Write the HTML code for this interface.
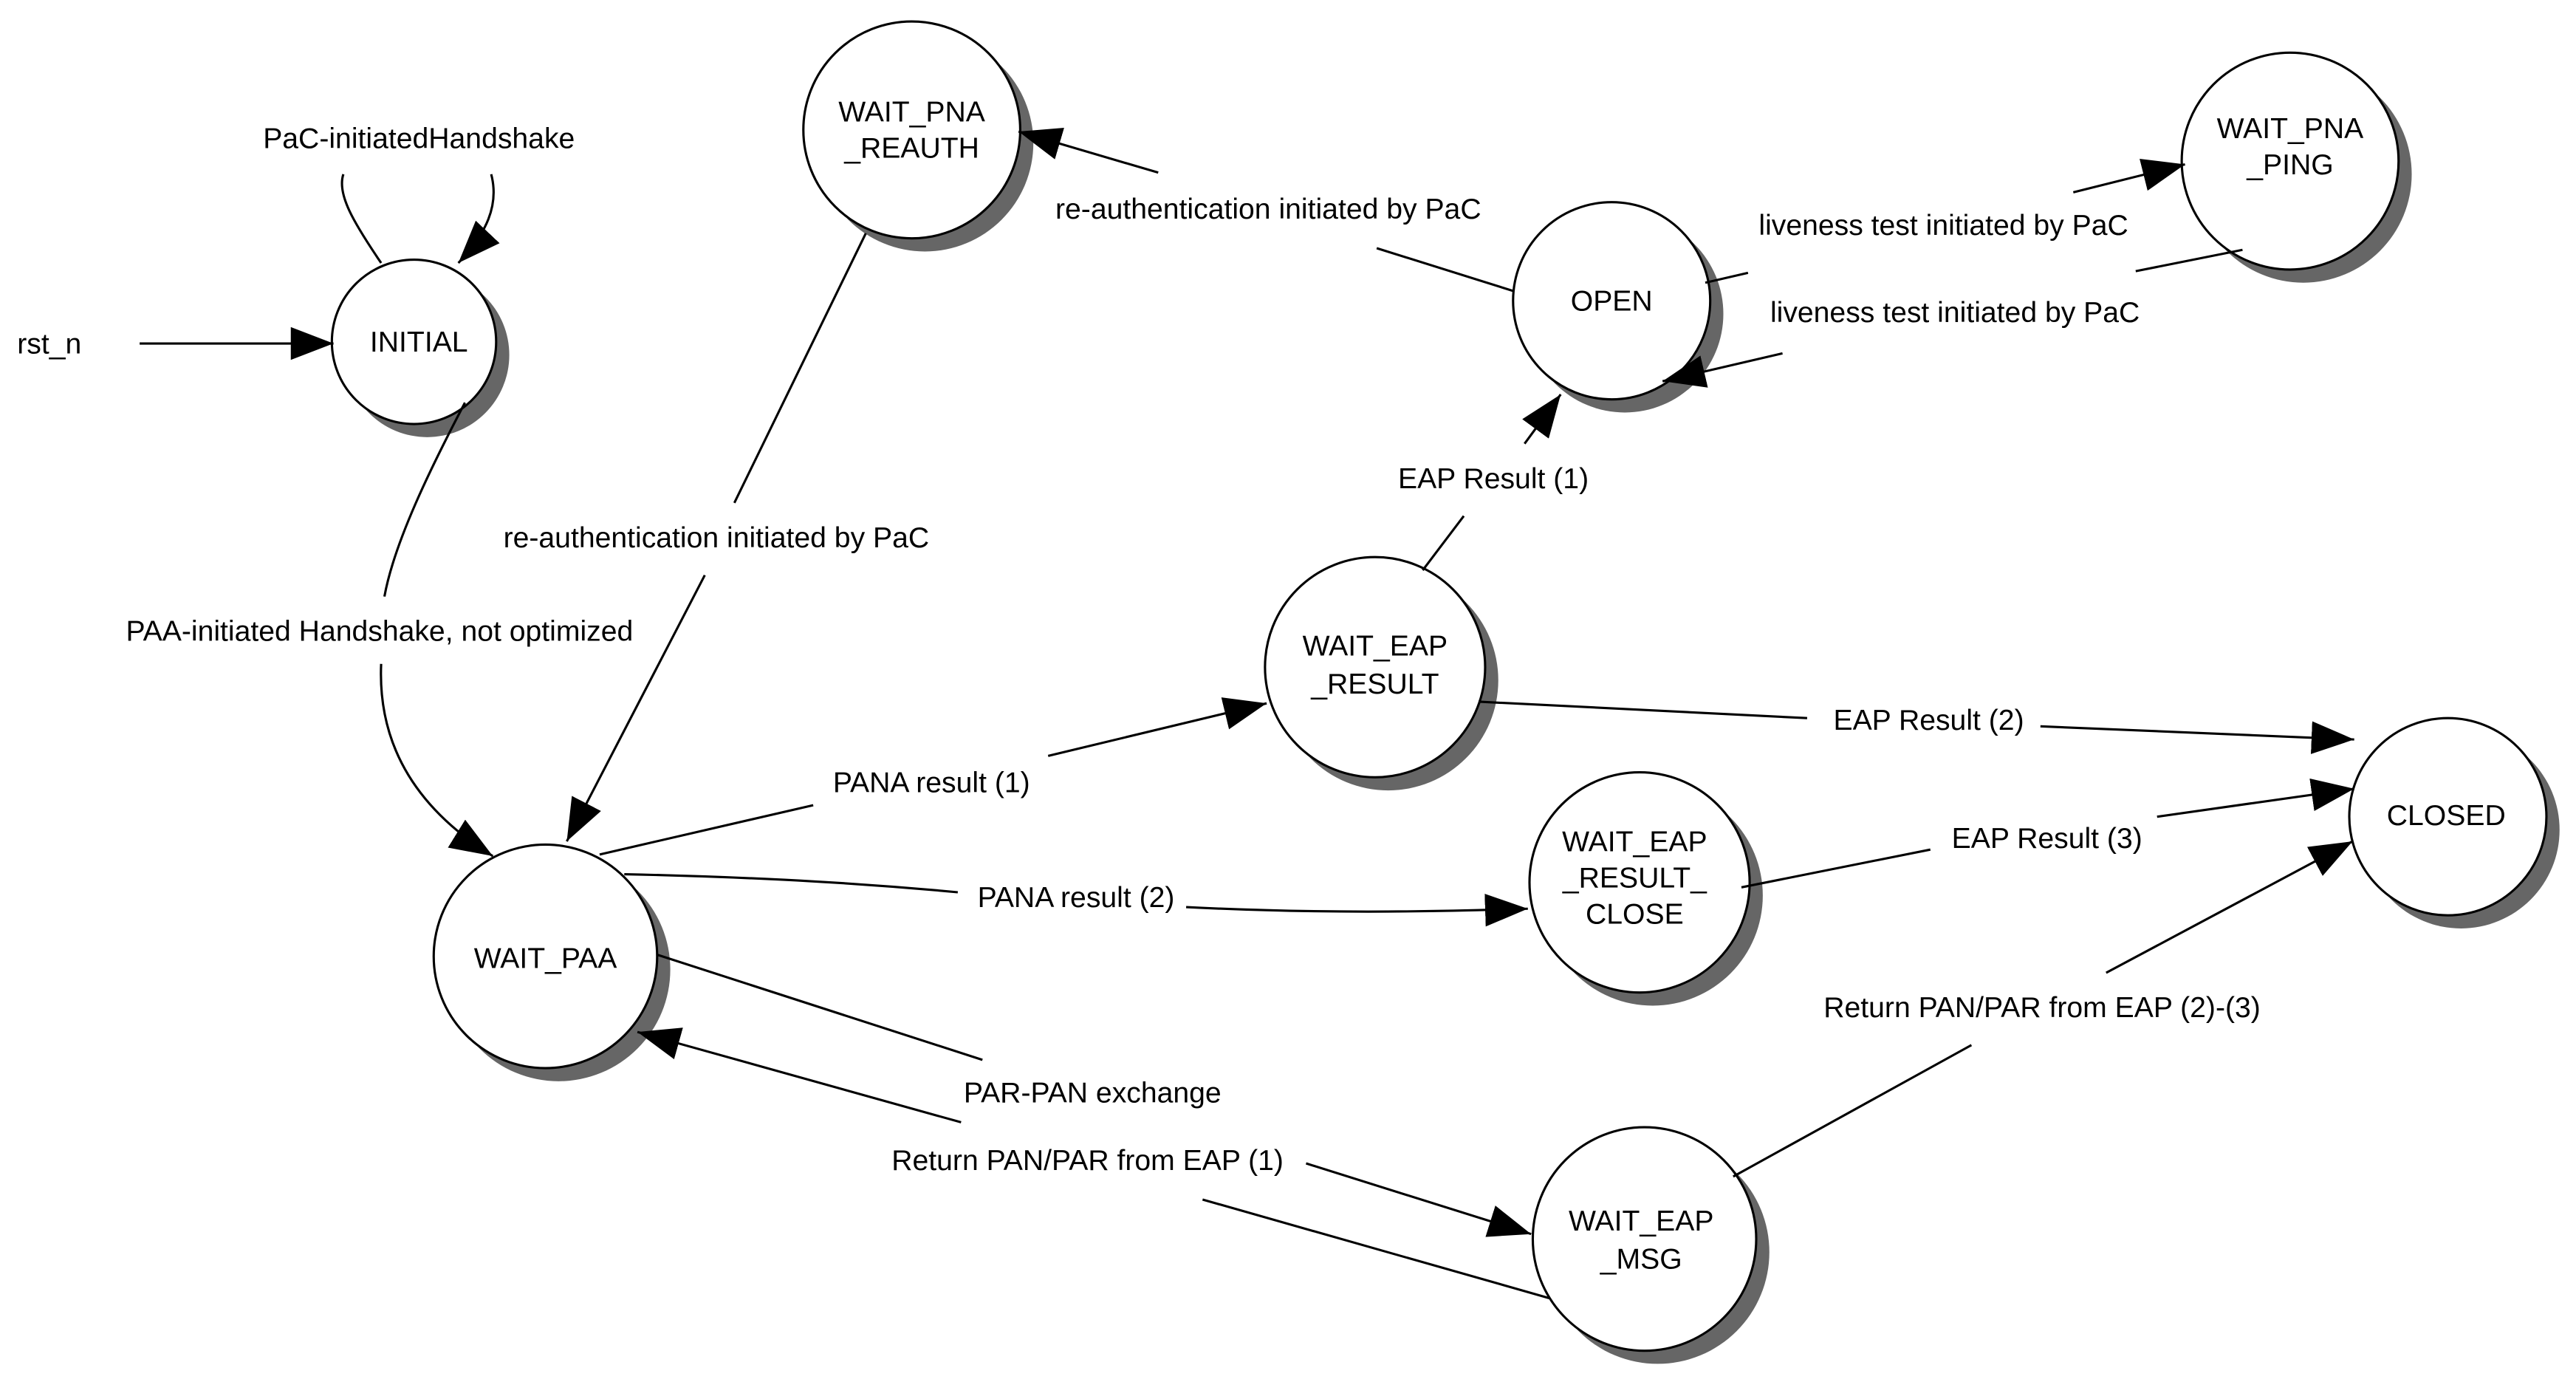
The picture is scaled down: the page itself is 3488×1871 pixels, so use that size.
<!DOCTYPE html>
<html><head><meta charset="utf-8"><style>html,body{margin:0;padding:0;background:#fff}svg{display:block}</style></head>
<body>
<svg width="3488" height="1871" viewBox="0 0 1568 841" xmlns="http://www.w3.org/2000/svg">
<defs>
<marker id="a" markerUnits="userSpaceOnUse" markerWidth="30" markerHeight="24" refX="26" refY="10" orient="auto">
<path d="M0,0 L26,10 L0,20 Z" fill="#000"/>
</marker>
</defs>
<rect width="1568" height="841" fill="#fff"/>
<g fill="#666">
<circle cx="260" cy="216" r="50"/>
<circle cx="563" cy="87" r="66"/>
<circle cx="989" cy="191" r="60"/>
<circle cx="1402" cy="106" r="66"/>
<circle cx="845" cy="414" r="67"/>
<circle cx="1006" cy="545" r="67"/>
<circle cx="1498" cy="505" r="60"/>
<circle cx="1009" cy="762" r="68"/>
<circle cx="340" cy="590" r="68"/>
</g>
<g fill="#fff" stroke="#000" stroke-width="1.4">
<circle cx="252" cy="208" r="50"/>
<circle cx="555" cy="79" r="66"/>
<circle cx="981" cy="183" r="60"/>
<circle cx="1394" cy="98" r="66"/>
<circle cx="837" cy="406" r="67"/>
<circle cx="998" cy="537" r="67"/>
<circle cx="1490" cy="497" r="60"/>
<circle cx="1001" cy="754" r="68"/>
<circle cx="332" cy="582" r="68"/>
</g>
<g fill="none" stroke="#000" stroke-width="1.4">
<path d="M85,209 L203,209" marker-end="url(#a)"/>
<path d="M232,160 C215,135 205,118 209,106"/>
<path d="M299,106 C304,125 296,142 279,160" marker-end="url(#a)"/>
<path d="M283,245 C262,285 240,330 234,363"/>
<path d="M232,404 C230,450 250,490 300,521" marker-end="url(#a)"/>
<path d="M527,142 L447,306"/>
<path d="M429,350 L345,512" marker-end="url(#a)"/>
<path d="M921,177 L838,151"/>
<path d="M705,105 L620,80" marker-end="url(#a)"/>
<path d="M1038,172 L1064,166"/>
<path d="M1262,117 L1330,100" marker-end="url(#a)"/>
<path d="M1365,152 L1300,165"/>
<path d="M1085,215 L1012,232" marker-end="url(#a)"/>
<path d="M866,347 L891,314"/>
<path d="M928,270 L950,240" marker-end="url(#a)"/>
<path d="M365,520 L495,490"/>
<path d="M638,460 L771,428" marker-end="url(#a)"/>
<path d="M900,427 L1100,437"/>
<path d="M1242,442 L1433,450" marker-end="url(#a)"/>
<path d="M380,532 C470,534 530,538 583,543"/>
<path d="M722,552 C800,556 870,555 930,553" marker-end="url(#a)"/>
<path d="M1060,540 L1175,517"/>
<path d="M1313,497 L1433,480" marker-end="url(#a)"/>
<path d="M1055,716 L1200,636"/>
<path d="M1282,592 L1432,512" marker-end="url(#a)"/>
<path d="M400,581 L598,645"/>
<path d="M795,708 L932,751" marker-end="url(#a)"/>
<path d="M943,790 L732,730"/>
<path d="M585,683 L388,628" marker-end="url(#a)"/>
</g>
<g font-family="Liberation Sans, Arial, sans-serif" font-size="17.6" text-anchor="middle" fill="#000">
<text x="255" y="214">INITIAL</text>
<text x="555" y="74">WAIT_PNA</text>
<text x="555" y="96">_REAUTH</text>
<text x="981" y="189">OPEN</text>
<text x="1394" y="84">WAIT_PNA</text>
<text x="1394" y="106">_PING</text>
<text x="837" y="399">WAIT_EAP</text>
<text x="837" y="422">_RESULT</text>
<text x="995" y="518">WAIT_EAP</text>
<text x="995" y="540">_RESULT_</text>
<text x="995" y="562">CLOSE</text>
<text x="1489" y="502">CLOSED</text>
<text x="999" y="749">WAIT_EAP</text>
<text x="999" y="772">_MSG</text>
<text x="332" y="589">WAIT_PAA</text>
<text x="30" y="215">rst_n</text>
<text x="255" y="90">PaC-initiatedHandshake</text>
<text x="231" y="390">PAA-initiated Handshake, not optimized</text>
<text x="436" y="333">re-authentication initiated by PaC</text>
<text x="772" y="133">re-authentication initiated by PaC</text>
<text x="1183" y="143">liveness test initiated by PaC</text>
<text x="1190" y="196">liveness test initiated by PaC</text>
<text x="909" y="297">EAP Result (1)</text>
<text x="567" y="482">PANA result (1)</text>
<text x="1174" y="444">EAP Result (2)</text>
<text x="655" y="552">PANA result (2)</text>
<text x="1246" y="516">EAP Result (3)</text>
<text x="1243" y="619">Return PAN/PAR from EAP (2)-(3)</text>
<text x="665" y="671">PAR-PAN exchange</text>
<text x="662" y="712">Return PAN/PAR from EAP (1)</text>
</g>
</svg>
</body></html>
